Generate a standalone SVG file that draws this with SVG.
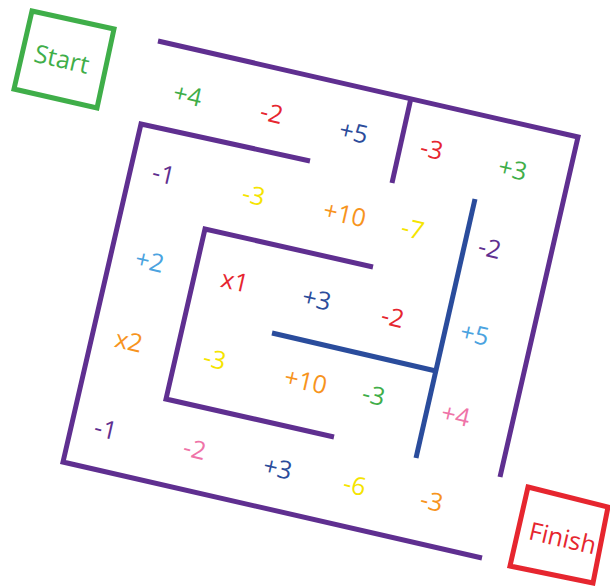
<svg xmlns="http://www.w3.org/2000/svg" width="610" height="587" viewBox="0 0 610 587">
<style>
.w{fill:none;stroke:#5f2f90;stroke-width:5;stroke-linecap:butt;stroke-linejoin:miter}
.b{fill:none;stroke:#2a4c9c;stroke-width:5}
text{font-family:"Open Sans","Liberation Sans",sans-serif;font-size:25px;text-anchor:middle;dominant-baseline:central}
.g{fill:#3fae49}.r{fill:#e6262f}.db{fill:#2b4c9b}.p{fill:#5f2f90}.y{fill:#f5e400}.o{fill:#f7941d}.lb{fill:#4ba3e0}.pk{fill:#ef74a8}
</style>
<rect width="610" height="587" fill="#fff"/>
<g id="walls">
<polyline class="w" points="158,41 578,137 500,477"/>
<line class="w" x1="411" y1="98" x2="392" y2="183"/>
<polyline class="w" points="310,161 141,124 63,462 482,558"/>
<polyline class="w" points="373,267 205,229 166,399 334,437"/>
<line class="b" x1="272" y1="333" x2="436" y2="371"/>
<line class="b" x1="475" y1="199" x2="416" y2="458"/>
</g>
<g id="start">
<polygon points="32,11 114,29 97,108 14,89" fill="none" stroke="#3fae49" stroke-width="5"/>
<text class="g" x="62" y="58" transform="rotate(13 62 58)">Start</text>
</g>
<g id="finish">
<polygon points="528,487 608,507 593,583 510,566" fill="none" stroke="#e6262f" stroke-width="5"/>
<text class="r" x="563" y="537" transform="rotate(13 563 537)">Finish</text>
</g>
<g id="labels">
<text class="g" x="188" y="94" transform="rotate(13 188 94)">+4</text>
<text class="r" x="272" y="112" transform="rotate(13 272 112)">-2</text>
<text class="db" x="354" y="131" transform="rotate(13 354 131)">+5</text>
<text class="r" x="432" y="148" transform="rotate(13 432 148)">-3</text>
<text class="g" x="513" y="168" transform="rotate(13 513 168)">+3</text>
<text class="p" x="164" y="173" transform="rotate(13 164 173)">-1</text>
<text class="y" x="254" y="194" transform="rotate(13 254 194)">-3</text>
<text class="o" x="345" y="213" transform="rotate(13 345 213)">+10</text>
<text class="y" x="413" y="228" transform="rotate(13 413 228)">-7</text>
<text class="p" x="490" y="247" transform="rotate(13 490 247)">-2</text>
<text class="lb" x="150" y="260" transform="rotate(13 150 260)">+2</text>
<text class="r" x="235" y="280" transform="rotate(13 235 280)">x1</text>
<text class="db" x="317" y="298" transform="rotate(13 317 298)">+3</text>
<text class="r" x="393" y="316" transform="rotate(13 393 316)">-2</text>
<text class="lb" x="475" y="333" transform="rotate(13 475 333)">+5</text>
<text class="o" x="129" y="340" transform="rotate(13 129 340)">x2</text>
<text class="y" x="215" y="358" transform="rotate(13 215 358)">-3</text>
<text class="o" x="306" y="380" transform="rotate(13 306 380)">+10</text>
<text class="g" x="374" y="394" transform="rotate(13 374 394)">-3</text>
<text class="pk" x="456" y="414" transform="rotate(13 456 414)">+4</text>
<text class="p" x="106" y="428" transform="rotate(13 106 428)">-1</text>
<text class="pk" x="195" y="448" transform="rotate(13 195 448)">-2</text>
<text class="db" x="278" y="467" transform="rotate(13 278 467)">+3</text>
<text class="y" x="355" y="484" transform="rotate(13 355 484)">-6</text>
<text class="o" x="432" y="500" transform="rotate(13 432 500)">-3</text>
</g>
</svg>
